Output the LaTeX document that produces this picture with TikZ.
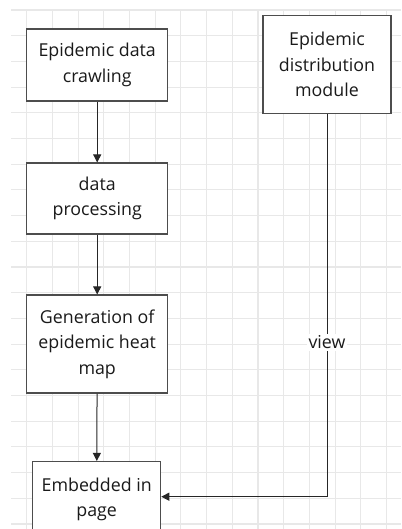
\documentclass[tikz,border=0pt]{standalone}
\usepackage{fontspec}
\setmainfont{Open Sans}
\usetikzlibrary{arrows.meta}
\definecolor{gridgray}{HTML}{E8E8E8}
\definecolor{boxline}{HTML}{4D4D4D}
\definecolor{txt}{HTML}{1A1A1A}
\tikzset{
  stepbox/.style={draw=boxline, line width=1.1pt, fill=white, inner sep=0pt,
    align=center, text=txt, font=\fontsize{17.8}{25.5}\selectfont},
  flow/.style={draw=black!85, line width=1pt,
    -{Triangle[length=8pt,width=8pt]}},
  tag/.style={fill=white, text=txt, inner sep=2pt, font=\fontsize{17.8}{20}\selectfont}
}
\begin{document}
\begin{tikzpicture}[x=1pt,y=-1pt]
  \useasboundingbox (0,0) rectangle (401,529);
  \clip (0,0) rectangle (401,529);
  % background grid
  \foreach \k in {0,...,14}
    \draw[gridgray, line width=1.1pt] ({26.7+25.7*\k},10) -- ({26.7+25.7*\k},529);
  \foreach \k in {0,...,20}
    \draw[gridgray, line width=1.1pt] (11,{10+25.7*\k}) -- (401,{10+25.7*\k});
  % process boxes
  \node[stepbox, minimum width=141pt, minimum height=72pt] (crawl) at (97.2,65)
    {Epidemic data\\crawling};
  \node[stepbox, minimum width=141pt, minimum height=71pt] (proc) at (97.2,198.5)
    {data\\processing};
  \node[stepbox, minimum width=141pt, minimum height=98pt] (heat) at (97.2,344)
    {Generation of\\epidemic heat\\map};
  \node[stepbox, minimum width=128pt, minimum height=76pt] (embed) at (96.7,499.5)
    {Embedded in\\page};
  \node[stepbox, minimum width=128pt, minimum height=97.5pt] (dist) at (327,64.5)
    {Epidemic\\distribution\\module};
  % connectors
  \draw[flow] (crawl) -- (proc);
  \draw[flow] (proc) -- (heat);
  \draw[flow] (heat) -- (embed);
  \coordinate (bend) at (dist.south |- 0,496.7);
  \draw[flow] (dist.south) -- (bend) -- (embed.east |- bend);
  \node[tag] at (327,342.5) {view};
\end{tikzpicture}
\end{document}
